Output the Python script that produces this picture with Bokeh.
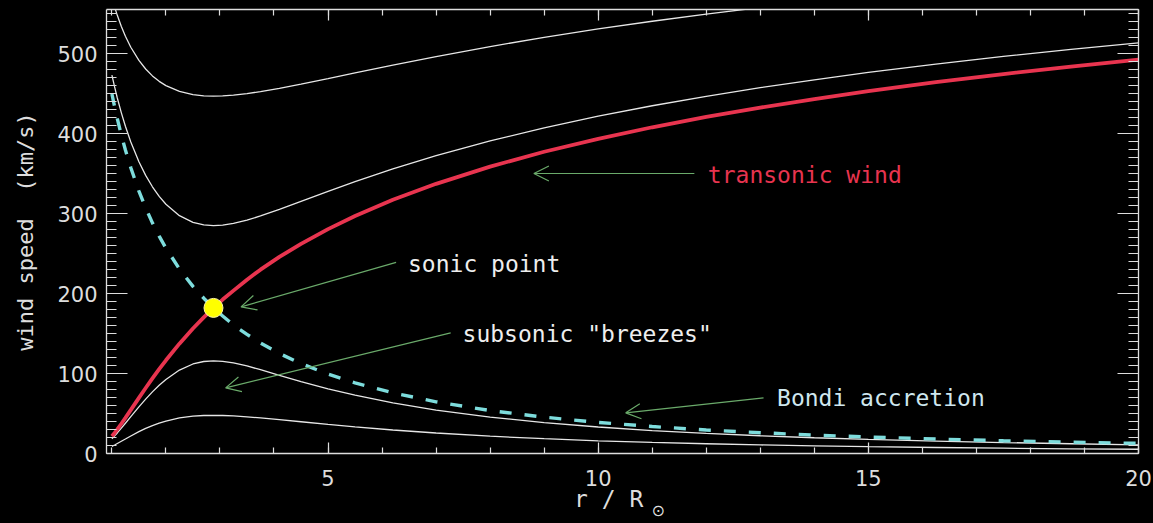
from bokeh.plotting import figure
from bokeh.models import (Range1d, LinearAxis, SingleIntervalTicker, Label, Arrow, OpenHead,
                          CustomJSTickFormatter, GlobalInlineStyleSheet)
from bokeh.embed import file_html
from bokeh.resources import INLINE

# ---------------- data ----------------
r = [1.0, 1.05, 1.1, 1.175, 1.25, 1.35, 1.5, 1.625, 1.75, 1.875, 2.0, 2.25, 2.5, 2.7,
     2.88, 3.05, 3.25, 3.5, 3.75, 4.1, 4.5, 5.0, 5.5, 6.2, 7.0, 8.0, 9.0, 10.0, 11.0,
     12.0, 13.0, 14.0, 15.0, 16.25, 17.5, 18.75, 20.0]
transonic = [21.5, 25.7, 30.2, 37.2, 44.5, 54.5, 69.6, 81.9, 93.9, 105.4, 116.5, 137.3,
             156.3, 170.2, 182, 192.4, 203.6, 217.3, 229.8, 245.7, 262.0, 280.5, 296.8,
             317.1, 337.1, 358.6, 377.2, 393.4, 407.8, 420.7, 432.4, 443.1, 452.9, 464.1,
             474.3, 483.7, 492.3]
bondi = [449.4, 433.4, 418.5, 398.0, 379.4, 357.2, 328.0, 307.0, 288.3, 271.7, 256.7, 230.6,
         208.9, 194.1, 182, 171.8, 160.6, 148.9, 138.1, 125.0, 112.4, 99.2, 88.3, 75.8, 64.6,
         53.7, 45.4, 38.9, 33.7, 29.4, 26.0, 23.0, 20.6, 18.1, 16.0, 14.2, 12.7]
super_lo = [473.0, 458.2, 444.4, 425.8, 409.1, 389.4, 364.7, 347.7, 333.4, 321.4, 311.6, 297.3,
            289.0, 285.7, 284.9, 285.5, 287.6, 291.7, 296.9, 305.1, 315.1, 327.7, 339.8, 355.7,
            372.3, 390.7, 407.1, 421.6, 434.7, 446.5, 457.3, 467.1, 476.3, 486.7, 496.3, 505.2,
            513.4]
breeze_hi = [18.4, 22.0, 25.7, 31.7, 37.8, 46.1, 58.3, 68.0, 77.0, 85.3, 92.6, 104.3, 111.9,
             115.0, 115.8, 115.2, 113.2, 109.4, 104.7, 97.8, 89.9, 80.9, 72.9, 63.3, 54.3, 45.5,
             38.6, 33.1, 28.7, 25.1, 22.2, 19.7, 17.6, 15.5, 13.7, 12.2, 10.9]
breeze_lo = [8.9, 10.6, 12.5, 15.3, 18.1, 21.9, 27.3, 31.4, 34.9, 38.0, 40.6, 44.4, 46.6, 47.5,
             47.7, 47.5, 47.0, 45.9, 44.5, 42.4, 39.7, 36.4, 33.3, 29.4, 25.6, 21.6, 18.5, 15.9,
             13.9, 12.2, 10.7, 9.6, 8.5, 7.5, 6.6, 5.9, 5.3]
r_top = [1.0, 1.05, 1.1, 1.175, 1.25, 1.35, 1.5, 1.625, 1.75, 1.875, 2.0, 2.25, 2.5, 2.7,
         2.88, 3.05, 3.25, 3.5, 3.75, 4.1, 4.5, 5.0, 5.5, 6.2, 7.0, 8.0, 9.0, 10.0, 11.0,
         12.0, 13.0, 14.0]
super_hi = [569.8, 558.2, 547.7, 533.7, 521.6, 507.8, 491.3, 480.6, 472.0, 465.2, 459.9, 452.6,
            448.6, 447.1, 446.8, 447.0, 448.0, 449.9, 452.4, 456.5, 461.8, 468.7, 475.8, 485.6,
            496.2, 508.7, 520.1, 530.7, 540.3, 549.2, 557.5, 565.2]

sonic_r = [2.88]
sonic_v = [182]

ann_text = ["transonic wind", "sonic point", "subsonic \"breezes\"", "Bondi accretion"]
ann_x = [12.03, 6.48, 7.49, 13.31]
ann_y = [348, 237, 150, 70]
ann_color = ["#e8344f", "#eeeeee", "#eeeeee", "#cfe7ef"]

arr_x0 = [11.78, 6.26, 7.27, 13.06]
arr_y0 = [350, 239, 150.8, 69.5]
arr_x1 = [8.81, 3.39, 3.105, 10.51]
arr_y1 = [350, 183.3, 82, 50.8]

x_ticks_step = 5
y_ticks_step = 100

# ---------------- styling ----------------
BG = "#000000"
AX = "#dddddd"
FONT = "DejaVu Sans"
MONO = "DejaVu Sans Mono"
WHITE = "#e6e6e6"
RED = "#e8344f"
CYAN = "#7ddcdc"
GREEN = "#6aaa6a"
NB = "\u00a0"

p = figure(frame_width=1032, frame_height=444,
           x_range=Range1d(0.9, 20), y_range=Range1d(0, 555),
           x_axis_type=None, y_axis_type=None,
           output_backend="svg", toolbar_location=None,
           background_fill_color=BG, border_fill_color=BG,
           min_border_left=106, min_border_right=15, min_border_top=9, min_border_bottom=70,
           outline_line_color=None)
p.grid.visible = False
p.stylesheets = [GlobalInlineStyleSheet(
    css="html, body { background-color: #000000; overflow: hidden; }")]


def make_axis(kind, loc, labels):
    if kind == "x":
        t = SingleIntervalTicker(interval=x_ticks_step, num_minor_ticks=5)
        tin, tmin = 11, 6
    else:
        t = SingleIntervalTicker(interval=y_ticks_step, num_minor_ticks=10)
        tin, tmin = 21, 10
    ax = LinearAxis(ticker=t)
    ax.axis_line_color = AX
    ax.axis_line_width = 1.3
    ax.major_tick_line_color = AX
    ax.minor_tick_line_color = AX
    ax.major_tick_line_width = 1.2
    ax.minor_tick_line_width = 1.2
    ax.major_tick_in = tin
    ax.major_tick_out = 0
    ax.minor_tick_in = tmin
    ax.minor_tick_out = 0
    ax.major_label_text_font = FONT
    ax.major_label_text_color = AX
    ax.major_label_text_font_size = "21px"
    if not labels:
        ax.formatter = CustomJSTickFormatter(code="return ''")
        ax.major_label_text_font_size = "0px"
        ax.major_label_standoff = 0
    p.add_layout(ax, loc)
    return ax


xb = make_axis("x", "below", True)
xb.major_label_standoff = 16
xb.axis_label = "r" + NB + "/" + NB + "R" + NB * 2
xb.axis_label_text_font = MONO
xb.axis_label_text_font_style = "normal"
xb.axis_label_text_font_size = "23px"
xb.axis_label_text_color = AX
xb.axis_label_standoff = -3

# second (bare) axis below, only carrying the subscript sun symbol
xs = LinearAxis(ticker=SingleIntervalTicker(interval=x_ticks_step, num_minor_ticks=0))
xs.axis_line_color = None
xs.major_tick_line_color = None
xs.minor_tick_line_color = None
xs.major_tick_in = 0
xs.major_tick_out = 0
xs.formatter = CustomJSTickFormatter(code="return ''")
xs.major_label_text_font_size = "0px"
xs.major_label_standoff = 0
xs.axis_label = NB * 14 + "\u2299"
xs.axis_label_text_font = FONT
xs.axis_label_text_font_style = "normal"
xs.axis_label_text_font_size = "16px"
xs.axis_label_text_color = AX
xs.axis_label_standoff = -14
p.add_layout(xs, "below")

yl = make_axis("y", "left", True)
yl.major_label_standoff = 9
yl.axis_label = "wind speed" + NB + " (km/s)"
yl.axis_label_text_font = MONO
yl.axis_label_text_font_style = "normal"
yl.axis_label_text_font_size = "22px"
yl.axis_label_text_color = AX
yl.axis_label_standoff = 16
make_axis("x", "above", False)
make_axis("y", "right", False)

# ---------------- curves ----------------
p.line(r_top, super_hi, line_color=WHITE, line_width=1.3)
p.line(r, super_lo, line_color=WHITE, line_width=1.3)
p.line(r, breeze_hi, line_color=WHITE, line_width=1.3)
p.line(r, breeze_lo, line_color=WHITE, line_width=1.3)
p.line(r, bondi, line_color=CYAN, line_width=3.4, line_dash="12 13")
p.line(r, transonic, line_color=RED, line_width=3.8)
p.scatter(sonic_r, sonic_v, size=19, fill_color="#ffff00", line_color="#fff6a8", line_width=1)

# ---------------- annotations ----------------
for x0, y0, x1, y1 in zip(arr_x0, arr_y0, arr_x1, arr_y1):
    p.add_layout(Arrow(x_start=x0, y_start=y0, x_end=x1, y_end=y1,
                       line_color=GREEN, line_width=1.2,
                       end=OpenHead(size=15, line_color=GREEN, line_width=1.2)))

for t, x, y, c in zip(ann_text, ann_x, ann_y, ann_color):
    p.add_layout(Label(x=x, y=y, text=t, text_color=c, text_font=MONO,
                       text_font_size="23px", text_align="left", text_baseline="alphabetic"))

open("out.html", "w").write(file_html(p, INLINE))
